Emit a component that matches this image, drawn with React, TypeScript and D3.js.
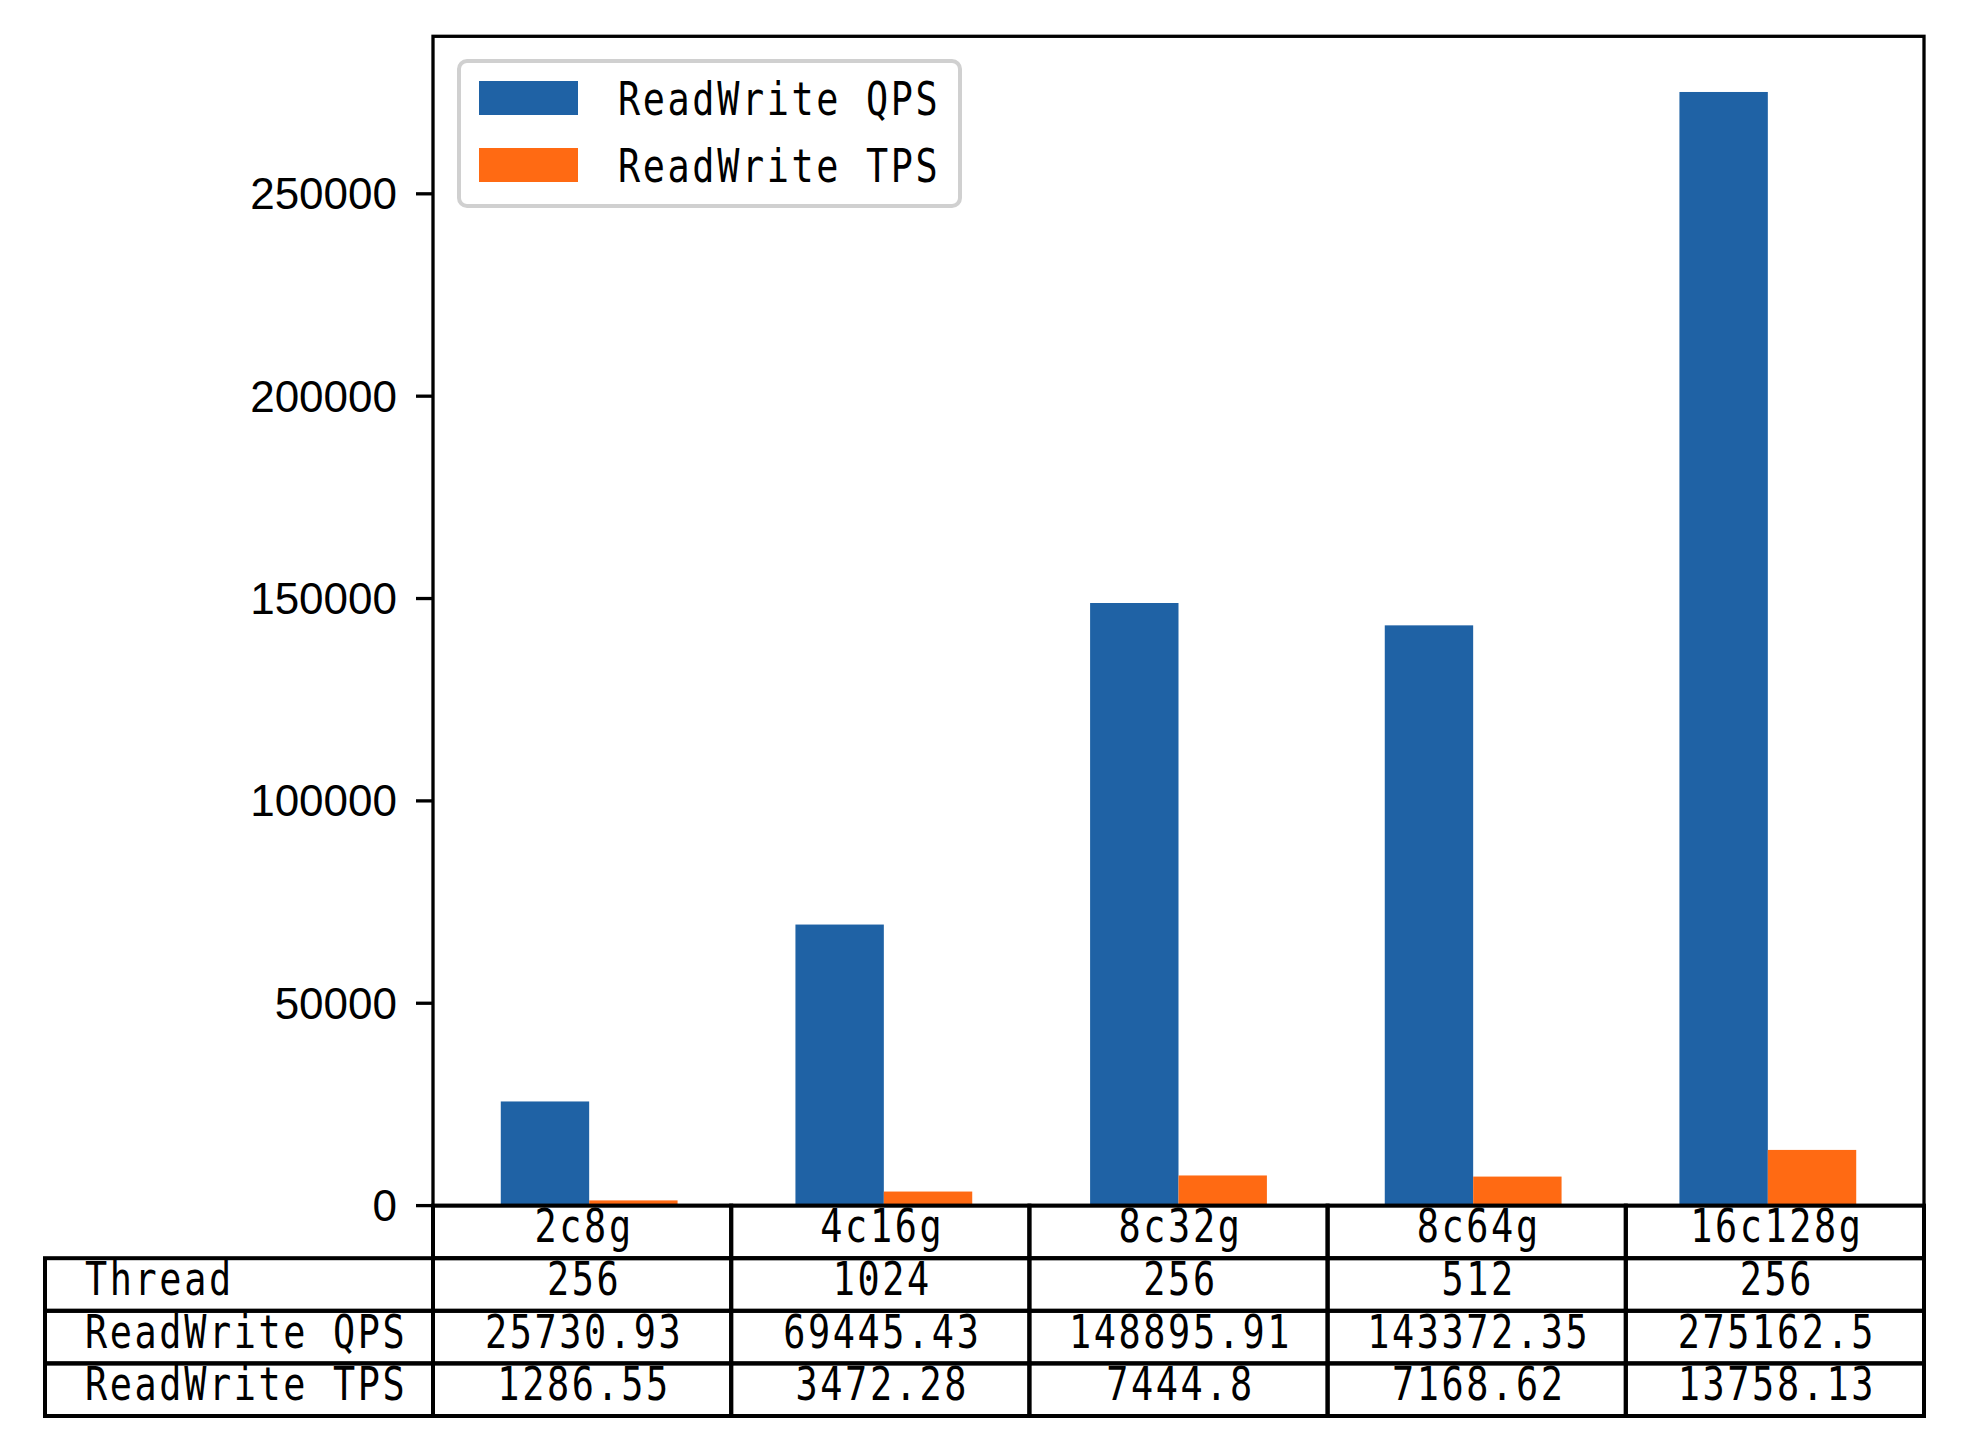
import React, { useEffect, useRef } from 'react';
import * as d3 from 'd3';

const categories = ['2c8g', '4c16g', '8c32g', '8c64g', '16c128g'];
const threads = [256, 1024, 256, 512, 256];
const qpsValues = [25730.93, 69445.43, 148895.91, 143372.35, 275162.5];
const tpsValues = [1286.55, 3472.28, 7444.8, 7168.62, 13758.13];
const yTicks = [0, 50000, 100000, 150000, 200000, 250000];
const seriesNames = ['ReadWrite QPS', 'ReadWrite TPS'];
const rowLabels = ['Thread', 'ReadWrite QPS', 'ReadWrite TPS'];

const BLUE = '#1f62a5';
const ORANGE = '#ff6a13';
const MONO = '"DejaVu Sans Mono", "Liberation Mono", monospace';
const SANS = '"Liberation Sans", Arial, sans-serif';

const App: React.FC = () => {
  const svgRef = useRef<SVGSVGElement>(null);

  useEffect(() => {
    if (!svgRef.current) return;
    const svg = d3.select(svgRef.current);
    svg.selectAll('*').remove();

    const left = 433;
    const right = 1924;
    const top = 36.3;
    const bottom = 1205.6;
    const barW = 0.3;

    const yMax = d3.max(qpsValues)! * 1.05;
    const y = d3.scaleLinear().domain([0, yMax]).range([bottom, top]);
    const xPad = (categories.length - 1 + 2 * barW) * 0.05;
    const x = d3.scaleLinear()
      .domain([-barW - xPad, categories.length - 1 + barW + xPad])
      .range([left, right]);

    // narrow, evenly spaced text in the style of a CJK half-width font
    const narrowText = (g: d3.Selection<SVGGElement, unknown, null, undefined>,
      tx: number, ty: number, s: string, anchor: string) => {
      g.append('text')
        .attr('transform', `translate(${tx},${ty}) scale(0.8,1)`)
        .attr('text-anchor', anchor)
        .style('font-family', MONO)
        .style('font-size', '46px')
        .style('letter-spacing', '3.3px')
        .text(s);
    };

    // bars
    svg.selectAll('.qps')
      .data(qpsValues)
      .enter()
      .append('rect')
      .attr('x', (_, i) => x(i - barW))
      .attr('width', x(barW) - x(0))
      .attr('y', d => y(d))
      .attr('height', d => y(0) - y(d))
      .attr('fill', BLUE);

    svg.selectAll('.tps')
      .data(tpsValues)
      .enter()
      .append('rect')
      .attr('x', (_, i) => x(i))
      .attr('width', x(barW) - x(0))
      .attr('y', d => y(d))
      .attr('height', d => y(0) - y(d))
      .attr('fill', ORANGE);

    // y axis ticks
    const ticks = svg.append('g');
    yTicks.forEach(t => {
      ticks.append('line')
        .attr('x1', left - 17).attr('x2', left)
        .attr('y1', y(t)).attr('y2', y(t))
        .attr('stroke', '#000').attr('stroke-width', 3.3);
      ticks.append('text')
        .attr('x', 397)
        .attr('y', y(t))
        .attr('text-anchor', 'end')
        .attr('dominant-baseline', 'central')
        .style('font-family', SANS)
        .style('font-size', '44px')
        .text(String(t));
    });

    // frame
    svg.append('rect')
      .attr('x', left).attr('y', top)
      .attr('width', right - left).attr('height', bottom - top)
      .attr('fill', 'none')
      .attr('stroke', '#000')
      .attr('stroke-width', 3.3);

    // legend
    const legend = svg.append('g');
    legend.append('rect')
      .attr('x', 459).attr('y', 61)
      .attr('width', 501).attr('height', 145)
      .attr('rx', 8)
      .attr('fill', '#fff')
      .attr('stroke', '#d0d0d0')
      .attr('stroke-width', 4);
    [BLUE, ORANGE].forEach((c, i) => {
      const cy = 98 + i * 67;
      legend.append('rect')
        .attr('x', 479).attr('y', cy - 17)
        .attr('width', 99).attr('height', 34)
        .attr('fill', c);
      narrowText(legend, 618, cy + 17, seriesNames[i], 'start');
    });

    // table
    const tableLeft = 45;
    const rowH = 52.6;
    const colW = (right - left) / categories.length;
    const table = svg.append('g');

    const rows = [
      threads.map(String),
      qpsValues.map(String),
      tpsValues.map(String),
    ];

    // header row (column labels)
    categories.forEach((c, i) => {
      table.append('rect')
        .attr('x', left + i * colW).attr('y', bottom)
        .attr('width', colW).attr('height', rowH)
        .attr('fill', 'none').attr('stroke', '#000').attr('stroke-width', 4);
      narrowText(table, left + (i + 0.5) * colW + 2, bottom + 36, c, 'middle');
    });

    rows.forEach((row, r) => {
      const ry = bottom + rowH * (r + 1);
      table.append('rect')
        .attr('x', tableLeft).attr('y', ry)
        .attr('width', left - tableLeft).attr('height', rowH)
        .attr('fill', 'none').attr('stroke', '#000').attr('stroke-width', 4);
      narrowText(table, tableLeft + 40, ry + 37, rowLabels[r], 'start');
      row.forEach((v, i) => {
        table.append('rect')
          .attr('x', left + i * colW).attr('y', ry)
          .attr('width', colW).attr('height', rowH)
          .attr('fill', 'none').attr('stroke', '#000').attr('stroke-width', 4);
        narrowText(table, left + (i + 0.5) * colW + 2, ry + 37, v, 'middle');
      });
    });
  }, []);

  return (
    <svg
      ref={svgRef}
      width={1962}
      height={1442}
      style={{ position: 'absolute', left: 0, top: 0, background: '#fff' }}
    />
  );
};

export default App;
